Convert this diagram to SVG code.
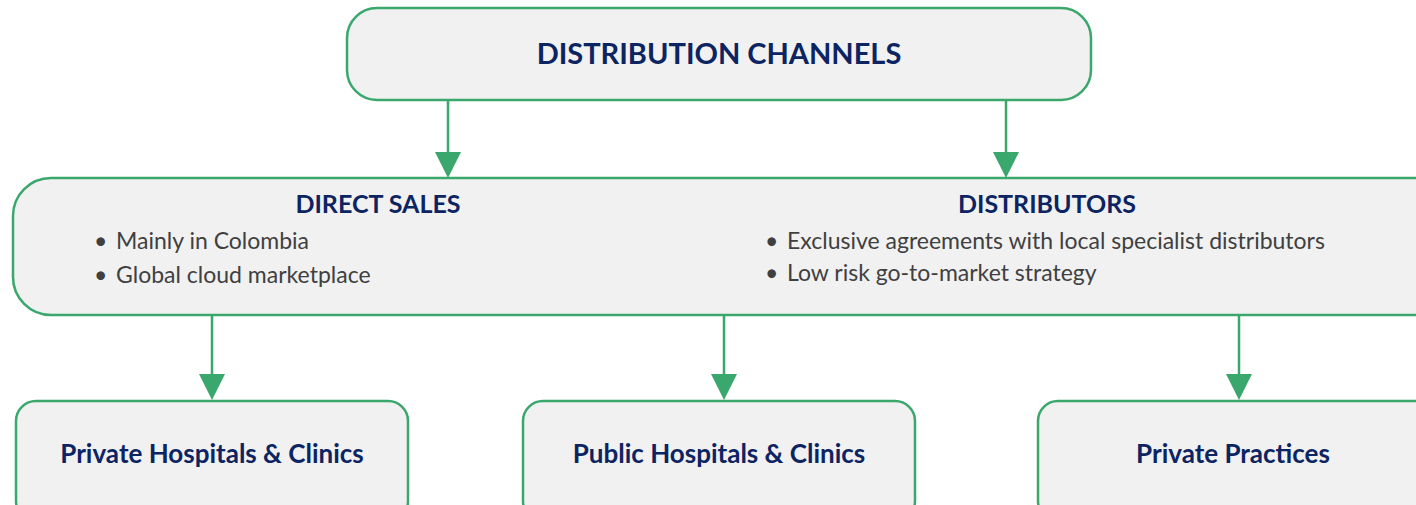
<svg xmlns="http://www.w3.org/2000/svg" width="1416" height="505" viewBox="0 0 1416 505">
<defs>
<style>
.box{fill:#f1f1f1;stroke:#3aa76d;stroke-width:2.5}
.conn{stroke:#3aa76d;stroke-width:2.5;fill:none}
.head{fill:#3aa76d}
.title{font-family:Lato,"Open Sans",sans-serif;font-weight:bold;fill:#0c2461;text-anchor:middle}
.body{font-family:Lato,"Open Sans",sans-serif;fill:#404040;font-size:23px}
</style>
</defs>
<rect width="1416" height="505" fill="#ffffff"/>
<g id="connectors">
<line class="conn" x1="448" y1="100" x2="448" y2="155"/>
<polygon class="head" points="435,152 461,152 448,178"/>
<line class="conn" x1="1006" y1="100" x2="1006" y2="155"/>
<polygon class="head" points="993,152 1019,152 1006,178"/>
<line class="conn" x1="212" y1="315" x2="212" y2="377"/>
<polygon class="head" points="199,374 225,374 212,400"/>
<line class="conn" x1="724" y1="315" x2="724" y2="377"/>
<polygon class="head" points="711,374 737,374 724,400"/>
<line class="conn" x1="1239" y1="315" x2="1239" y2="377"/>
<polygon class="head" points="1226,374 1252,374 1239,400"/>
</g>
<g id="node-distribution-channels">
<rect class="box" x="347" y="8" width="744" height="92" rx="30" ry="30"/>
<text class="title" x="719" y="64" font-size="29">DISTRIBUTION CHANNELS</text>
</g>
<g id="node-channels">
<rect class="box" x="13" y="178" width="1440" height="137" rx="38" ry="38"/>
<text class="title" x="378" y="213" font-size="25">DIRECT SALES</text>
<text class="body" x="94" y="249">•</text>
<text class="body" x="116" y="249">Mainly in Colombia</text>
<text class="body" x="94" y="283">•</text>
<text class="body" x="116" y="283">Global cloud marketplace</text>
<text class="title" x="1047" y="213" font-size="25">DISTRIBUTORS</text>
<text class="body" x="765" y="249">•</text>
<text class="body" x="787" y="249">Exclusive agreements with local specialist distributors</text>
<text class="body" x="765" y="281">•</text>
<text class="body" x="787" y="281">Low risk go-to-market strategy</text>
</g>
<g id="node-private-hospitals">
<rect class="box" x="16" y="401" width="392" height="120" rx="20" ry="20"/>
<text class="title" x="212" y="463" font-size="26">Private Hospitals &amp; Clinics</text>
</g>
<g id="node-public-hospitals">
<rect class="box" x="523" y="401" width="392" height="120" rx="20" ry="20"/>
<text class="title" x="719" y="463" font-size="26">Public Hospitals &amp; Clinics</text>
</g>
<g id="node-private-practices">
<rect class="box" x="1038" y="401" width="400" height="120" rx="20" ry="20"/>
<text class="title" x="1233" y="463" font-size="26">Private Practices</text>
</g>
</svg>
